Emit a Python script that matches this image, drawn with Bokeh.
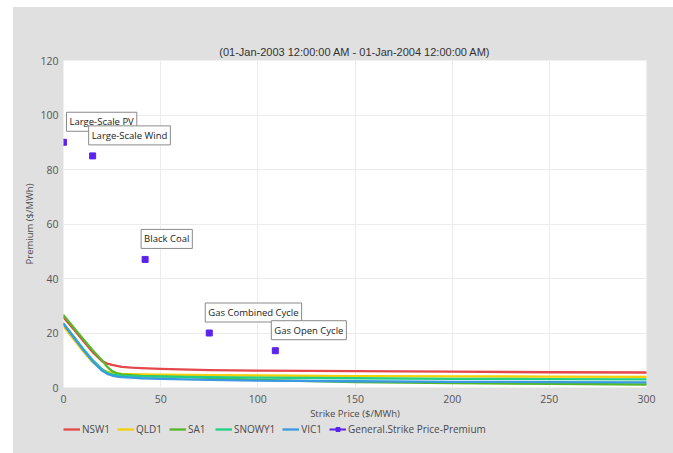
from bokeh.plotting import figure
from bokeh.models import Legend, LegendItem, Label, ColumnDataSource
from bokeh.layouts import column
from bokeh.embed import file_html
from bokeh.resources import INLINE

title_text = "(01-Jan-2003 12:00:00 AM - 01-Jan-2004 12:00:00 AM)"

strike = [0, 5, 10, 15, 20, 22.5, 25, 27.5, 30, 35, 40, 50, 75, 100, 150, 200, 250, 300]
nsw1   = [25.8, 21.6, 17.2, 13.0, 9.6, 8.8, 8.3, 7.9, 7.6, 7.3, 7.1, 6.8, 6.4, 6.2, 6.0, 5.8, 5.6, 5.5]
qld1   = [22.5, 17.9, 13.4, 9.3, 6.4, 5.8, 5.4, 5.2, 5.0, 4.9, 4.8, 4.7, 4.5, 4.4, 4.2, 4.1, 4.0, 3.9]
sa1    = [26.5, 22.2, 17.9, 13.7, 9.8, 7.6, 6.0, 5.2, 4.8, 4.5, 4.3, 4.1, 3.5, 2.8, 2.0, 1.6, 1.3, 1.1]
snowy1 = [23.5, 18.9, 14.3, 10.1, 6.6, 5.4, 4.8, 4.5, 4.3, 4.2, 4.1, 4.0, 3.8, 3.6, 3.4, 3.2, 3.1, 3.0]
vic1   = [23.3, 18.6, 13.9, 9.6, 6.1, 5.0, 4.4, 4.0, 3.8, 3.6, 3.4, 3.2, 2.8, 2.5, 2.3, 2.1, 2.0, 1.9]

regions = ["NSW1", "QLD1", "SA1", "SNOWY1", "VIC1"]
region_values = [nsw1, qld1, sa1, snowy1, vic1]
region_colors = ["#e5474b", "#f2cf0a", "#55b82a", "#22cf86", "#3a99e0"]

tech_names = ["Large-Scale PV", "Large-Scale Wind", "Black Coal", "Gas Combined Cycle", "Gas Open Cycle"]
tech_strike = [0, 15, 42, 75, 109]
tech_premium = [90, 85, 47, 20, 13.5]
point_series = "General.Strike Price-Premium"
point_color = "#5a23ee"

x_ticks = [0, 50, 100, 150, 200, 250, 300]
y_ticks = [0, 20, 40, 60, 80, 100, 120]

BG = "#e0e0e0"
TXT = "#4a4a4a"
FONT = "Open Sans"

p = figure(width=660, height=416, output_backend="svg", toolbar_location=None,
           x_range=(0, 300), y_range=(0, 120),
           min_border_left=50, min_border_right=27, min_border_top=53, min_border_bottom=36,
           border_fill_color=BG, background_fill_color="white", outline_line_color=None)

p.title.text = title_text
p.title.align = "center"
p.title.text_font = "Liberation Sans"
p.title.text_font_size = "11px"
p.title.text_font_style = "normal"
p.title.text_color = "#333333"
p.title.standoff = 6

for ax in (p.xaxis[0], p.yaxis[0]):
    ax.axis_line_color = None
    ax.major_tick_line_color = None
    ax.minor_tick_line_color = None
    ax.major_tick_out = 0
    ax.major_tick_in = 0
    ax.minor_tick_out = 0
    ax.minor_tick_in = 0
    ax.major_label_text_font = FONT
    ax.major_label_text_font_size = "10.5px"
    ax.major_label_text_color = "#555555"
    ax.axis_label_text_font = FONT
    ax.axis_label_text_font_size = "9.5px"
    ax.axis_label_text_font_style = "normal"
    ax.axis_label_text_color = TXT
    ax.axis_label_standoff = 1

p.xaxis.major_label_standoff = 7
p.yaxis.major_label_standoff = 5
p.xaxis.ticker = x_ticks
p.yaxis.ticker = y_ticks
p.xaxis.axis_label = "Strike Price ($/MWh)"
p.yaxis.axis_label = "Premium ($/MWh)"

p.xgrid.grid_line_color = "#ececec"
p.ygrid.grid_line_color = "#ececec"

for vals, col in zip(region_values, region_colors):
    p.line(strike, vals, line_color=col, line_width=2.3, line_join="round", line_cap="round")

src = ColumnDataSource(dict(x=tech_strike, y=tech_premium, name=tech_names))
p.scatter("x", "y", source=src, marker="square", size=6, fill_color=point_color,
          line_color=point_color)

for xv, yv, nm in zip(tech_strike, tech_premium, tech_names):
    lab = Label(x=xv, y=yv, text=nm, x_offset=(3 if xv == 0 else -4), y_offset=11,
                text_font=FONT, text_font_size="9.5px", text_color="#222222",
                background_fill_color="white", border_line_color="#8a8a8a",
                border_line_width=1, padding=3, anchor="bottom_left")
    p.add_layout(lab)

# legend strip below the plot (its own renderers sit outside its visible range)
lg = figure(width=660, height=30, output_backend="svg", toolbar_location=None,
            x_range=(0, 300), y_range=(1000, 1001),
            min_border_left=50, min_border_right=27, min_border_top=0, min_border_bottom=0,
            border_fill_color=BG, background_fill_color=BG, outline_line_color=None)
lg.axis.visible = False
lg.grid.visible = False
items = []
for name, vals, col in zip(regions, region_values, region_colors):
    r = lg.line(strike, vals, line_color=col, line_width=2.3)
    items.append(LegendItem(label=name, renderers=[r]))
pl = lg.line(tech_strike, tech_premium, line_color=point_color, line_width=2)
ps = lg.scatter(tech_strike, tech_premium, marker="square", size=6,
                fill_color=point_color, line_color=point_color)
items.append(LegendItem(label=point_series, renderers=[pl, ps]))

legend = Legend(items=items, orientation="horizontal", location=(0, 17),
                label_text_font=FONT, label_text_font_size="10px", label_text_color=TXT,
                glyph_width=17, glyph_height=10, label_height=10, label_standoff=2, spacing=7,
                padding=0, margin=0, background_fill_alpha=0, border_line_color=None)
lg.add_layout(legend)

layout = column(p, lg, spacing=0)
layout.margin = (7, 0, 0, 13)
layout.styles = {"background-color": BG}

open("out.html", "w").write(file_html(layout, INLINE))
